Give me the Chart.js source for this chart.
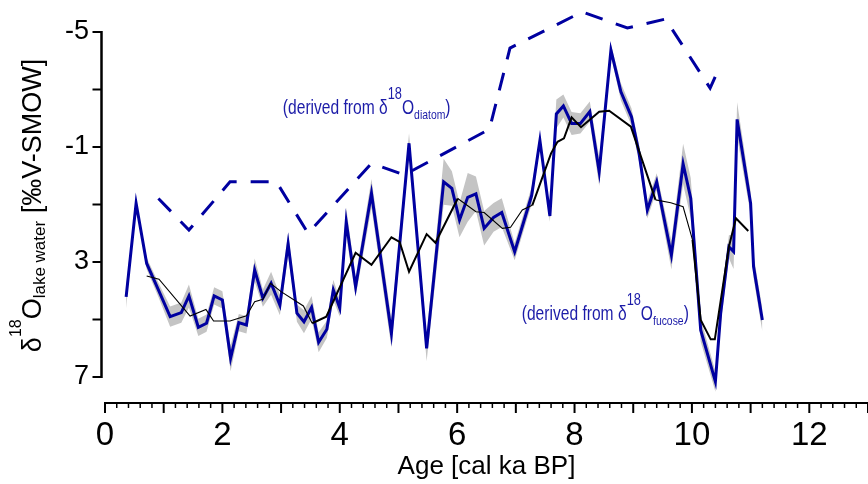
<!DOCTYPE html>
<html><head><meta charset="utf-8">
<script src="https://cdn.jsdelivr.net/npm/chart.js@4"></script>
<style>html,body{margin:0;padding:0;background:#fff;} canvas{display:block;}</style>
</head><body>
<canvas id="c" width="868" height="484"></canvas>
<script>
// ---- data ----
const fucoseAge = [0.36,0.53,0.71,0.91,1.11,1.30,1.43,1.59,1.73,1.86,2.00,2.14,2.28,2.41,2.55,2.69,2.83,2.98,3.12,3.27,3.39,3.52,3.64,3.78,3.89,4.00,4.11,4.27,4.54,4.88,5.18,5.48,5.77,5.91,6.04,6.18,6.32,6.46,6.62,6.76,6.98,7.27,7.41,7.58,7.69,7.81,7.95,8.10,8.26,8.42,8.62,8.79,8.97,9.10,9.24,9.40,9.65,9.85,9.98,10.15,10.40,10.49,10.63,10.71,10.77,11.00,11.05,11.20];
const fucoseD18O = [4.21,0.96,3.05,3.97,4.90,4.76,4.18,5.27,5.13,4.18,4.32,6.35,5.11,5.19,3.28,4.26,3.74,4.50,2.37,4.78,5.08,4.58,5.79,5.34,3.97,4.60,1.60,3.86,0.61,5.48,-1.13,6.00,0.21,0.44,1.54,0.75,0.63,1.83,1.45,1.28,2.64,0.68,-1.23,1.40,-2.15,-2.43,-1.82,-1.82,-2.23,-0.14,-4.37,-2.92,-2.05,-0.78,1.19,0.21,2.76,-0.41,0.78,5.37,7.16,4.78,2.47,2.64,-1.96,0.96,3.16,5.02];
const fucoseUncertainty = [0.4,0.1,0.2,0.25,0.35,0.35,0.4,0.3,0.3,0.3,0.3,0.45,0.3,0.3,0.4,0.3,0.4,0.35,0.4,0.3,0.4,0.4,0.35,0.3,0.35,0.3,0.5,0.35,0.5,0.5,0.35,0.45,0.8,0.6,0.6,0.85,0.6,0.6,0.5,0.5,0.3,0.3,0.2,0.2,0.5,0.4,0.4,0.35,0.35,0.5,0.2,0.3,0.3,0.3,0.3,0.3,0.5,0.7,0.7,0.4,0.35,0.4,0.4,0.6,0.6,0.4,0.4,0.4];
const smoothAge = [0.71,0.92,1.45,1.72,1.85,2.13,2.41,2.55,2.69,2.82,3.00,3.38,3.53,3.77,4.27,4.54,4.88,5.02,5.18,5.48,5.63,6.01,6.32,6.46,6.77,6.91,7.11,7.28,7.60,7.71,7.82,7.95,8.11,8.42,8.59,8.96,9.38,9.64,9.85,10.01,10.15,10.32,10.39,10.63,10.75,10.96];
const smoothD18O = [3.49,3.60,4.88,4.65,5.05,5.05,4.87,4.38,4.30,3.74,4.03,4.53,5.13,4.90,2.68,3.10,2.14,2.30,3.34,2.03,2.33,0.79,1.25,1.28,1.83,1.79,1.19,1.03,-0.78,-1.18,-1.30,-2.03,-1.69,-2.23,-2.26,-1.71,0.84,0.94,1.08,2.23,5.02,5.69,5.69,2.47,1.48,1.92];
const diatomAge = [0.91,1.43,2.13,2.92,3.46,4.54,5.10,6.55,6.90,8.13,8.90,9.55,10.31,10.44];
const diatomD18O = [0.79,1.89,0.21,0.21,2.00,-0.43,-0.03,-1.62,-4.44,-5.70,-5.14,-5.45,-3.05,-3.64];
const xTickLabels = [0,2,4,6,8,10,12];
const yTickValues = [-5,-3,-1,1,3,5,7];
const yTickLabels = ['-5','-1','3','7'];

// ---- styles ----
const BLUE = '#0000a0';
const TXTBLUE = '#1c1ca8';
const FONT = "'Liberation Sans', Arial, sans-serif";

const pts = (xs, ys) => xs.map((v, i) => ({x: v, y: ys[i]}));
const bandHi = fucoseAge.map((v, i) => ({x: v, y: fucoseD18O[i] - fucoseUncertainty[i]}));
const bandLo = fucoseAge.map((v, i) => ({x: v, y: fucoseD18O[i] + fucoseUncertainty[i]}));

function drawRich(ctx, parts, x, y, sx, rotate) {
  ctx.save();
  ctx.translate(x, y);
  if (rotate) ctx.rotate(-Math.PI / 2);
  ctx.scale(sx, 1);
  let total = 0;
  parts.forEach(p => { ctx.font = p.size + 'px ' + FONT; p.w = ctx.measureText(p.t).width; total += p.w; });
  let cx = rotate ? -total / 2 : 0;
  ctx.textBaseline = 'alphabetic';
  ctx.textAlign = 'left';
  parts.forEach(p => { ctx.font = p.size + 'px ' + FONT; ctx.fillText(p.t, cx, p.dy); cx += p.w; });
  ctx.restore();
}

const axesPlugin = {
  id: 'axesPlugin',
  afterDraw(chart) {
    const {ctx, scales: {x, y}, chartArea} = chart;
    ctx.save();
    ctx.strokeStyle = '#000';
    const yAxisX = x.getPixelForValue(0) - 3.5;
    ctx.lineWidth = 2.5;
    ctx.beginPath();
    ctx.moveTo(yAxisX, y.getPixelForValue(-5) - 1);
    ctx.lineTo(yAxisX, y.getPixelForValue(7) + 1);
    ctx.stroke();
    ctx.lineWidth = 2;
    yTickValues.forEach(v => {
      const py = y.getPixelForValue(v);
      ctx.beginPath(); ctx.moveTo(yAxisX - 9, py); ctx.lineTo(yAxisX, py); ctx.stroke();
    });
    const base = chartArea.bottom;
    for (let i = 0; i <= 65; i++) {
      const major = i % 5 === 0;
      const px = x.getPixelForValue(i / 5);
      ctx.lineWidth = major ? 2 : 1.5;
      ctx.beginPath(); ctx.moveTo(px, base); ctx.lineTo(px, base + (major ? 10 : 5)); ctx.stroke();
    }
    ctx.lineWidth = 2;
    ctx.beginPath(); ctx.moveTo(x.getPixelForValue(0) - 1, base); ctx.lineTo(chart.width, base); ctx.stroke();

    // y-axis title
    ctx.fillStyle = '#000';
    drawRich(ctx, [
      {t: 'δ', size: 27, dy: 0},
      {t: '18', size: 16, dy: -20},
      {t: 'O', size: 27, dy: 0},
      {t: 'lake water', size: 17, dy: 4},
      {t: ' [‰V-SMOW]', size: 27, dy: 0}
    ], 41, (y.getPixelForValue(-5) + y.getPixelForValue(7)) / 2 + 1, 1, true);

    // annotations
    ctx.fillStyle = TXTBLUE;
    drawRich(ctx, [
      {t: '(derived from δ', size: 19.5, dy: 0},
      {t: '18', size: 16, dy: -15},
      {t: 'O', size: 19.5, dy: 0},
      {t: 'diatom', size: 13, dy: 5},
      {t: ')', size: 19.5, dy: 0}
    ], x.getPixelForValue(3.03), y.getPixelForValue(-2.16), 0.8, false);
    drawRich(ctx, [
      {t: '(derived from δ', size: 19.5, dy: 0},
      {t: '18', size: 16, dy: -15},
      {t: 'O', size: 19.5, dy: 0},
      {t: 'fucose', size: 13, dy: 5},
      {t: ')', size: 19.5, dy: 0}
    ], x.getPixelForValue(7.10), y.getPixelForValue(5.02), 0.8, false);
    ctx.restore();
  }
};

const thinRanges = [[0, 3.4], [6.0, 7.2], [9.35, 9.9]];

new Chart(document.getElementById('c'), {
  type: 'scatter',
  data: {
    datasets: [
      {label: 'smooth', data: pts(smoothAge, smoothD18O), showLine: true, borderColor: '#000', borderWidth: 2, pointRadius: 0, tension: 0,
       segment: {borderWidth: c => thinRanges.some(r => c.p0.parsed.x >= r[0] && c.p0.parsed.x < r[1]) ? 1.1 : 2}},
      {label: 'fucose', data: pts(fucoseAge, fucoseD18O), showLine: true, borderColor: BLUE, borderWidth: 3, pointRadius: 0, tension: 0},
      {label: 'diatom', data: pts(diatomAge, diatomD18O), showLine: true, borderColor: BLUE, borderWidth: 3, borderDash: [18, 14], pointRadius: 0, tension: 0},
      {label: 'bandHi', data: bandHi, showLine: true, borderWidth: 0, borderColor: 'rgba(0,0,0,0)', pointRadius: 0, fill: 4, backgroundColor: '#c4c4c4'},
      {label: 'bandLo', data: bandLo, showLine: true, borderWidth: 0, borderColor: 'rgba(0,0,0,0)', pointRadius: 0, fill: false}
    ]
  },
  options: {
    responsive: false,
    animation: false,
    devicePixelRatio: 1,
    layout: {padding: {top: 3.25, left: 0, right: 0, bottom: 0}},
    plugins: {legend: {display: false}, tooltip: {enabled: false}},
    scales: {
      x: {
        type: 'linear', min: 0, max: 13,
        afterFit(s) { s.height = 81; },
        afterBuildTicks(s) { s.ticks = xTickLabels.map(v => ({value: v})); },
        grid: {display: false, drawTicks: true, tickLength: 13},
        border: {display: false},
        ticks: {autoSkip: false, maxRotation: 0, padding: 0, color: '#000', font: {family: FONT, size: 33}},
        title: {display: true, text: 'Age [cal ka BP]', color: '#000', font: {family: FONT, size: 26}, padding: {top: 0, bottom: 2}}
      },
      y: {
        type: 'linear', reverse: true, min: -6, max: 7.9043,
        afterFit(s) { s.width = 105; },
        afterBuildTicks(s) { s.ticks = yTickValues.map(v => ({value: v})); },
        grid: {display: false, drawTicks: true, tickLength: 16},
        border: {display: false},
        ticks: {padding: 0, color: '#000', font: {family: FONT, size: 27, lineHeight: 0.2},
          callback: v => yTickLabels.includes(String(v)) ? String(v) : ''}
      }
    }
  },
  plugins: [axesPlugin]
});
</script>
</body></html>
